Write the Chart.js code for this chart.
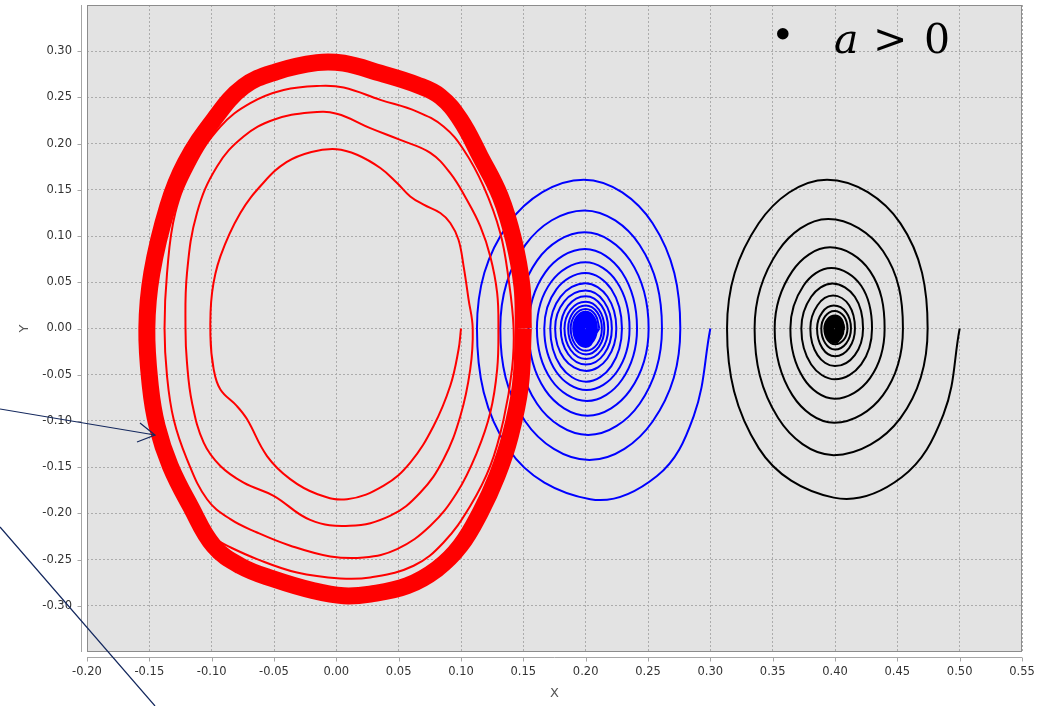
<!DOCTYPE html>
<html>
<head>
<meta charset="utf-8">
<title>Phase portrait</title>
<script src="https://cdn.jsdelivr.net/npm/chart.js@4.4.0/dist/chart.umd.min.js"></script>
<style>
	body { margin: 0; background: #ffffff; }
	#wrap { width: 1053px; height: 706px; }
</style>
</head>
<body>
<div id="wrap"><canvas id="phaseChart" width="1053" height="706"></canvas></div>
<script>
// Tick labels
var xTicks = [-0.20, -0.15, -0.10, -0.05, 0.00, 0.05, 0.10, 0.15, 0.20, 0.25, 0.30, 0.35, 0.40, 0.45, 0.50, 0.55];
var yTicks = [-0.30, -0.25, -0.20, -0.15, -0.10, -0.05, 0.00, 0.05, 0.10, 0.15, 0.20, 0.25, 0.30];

// Red trajectory, growing out from (0.10, 0) towards the limit cycle
var redSpiral = [
	[0.100, 0.000], [0.098, -0.023], [0.0914, -0.062], [0.078, -0.1055], [0.0593, -0.145], [0.038, -0.170],
	[0.0086, -0.1847], [-0.0155, -0.179], [-0.037, -0.163], [-0.0556, -0.138], [-0.0717, -0.098], [-0.0797, -0.084],
	[-0.093, -0.066], [-0.0984, -0.044], [-0.101, -0.008], [-0.0997, 0.0386], [-0.093, 0.078], [-0.077, 0.125],
	[-0.0583, 0.158], [-0.040, 0.180], [-0.020, 0.191], [0.000, 0.194], [0.0166, 0.188], [0.0353, 0.1736],
	[0.0487, 0.1574], [0.0593, 0.1429], [0.070, 0.134], [0.0834, 0.125], [0.0914, 0.1142], [0.098, 0.0961],
	[0.1021, 0.0673], [0.1061, 0.0313], [0.1094, 0.000],
	[0.1074, -0.0443], [0.0995, -0.0947], [0.086, -0.1415], [0.0674, -0.1775], [0.043, -0.2028], [0.0107, -0.2135],
	[-0.021, -0.207], [-0.0503, -0.181], [-0.0744, -0.1667], [-0.093, -0.1487], [-0.1064, -0.1235], [-0.1158, -0.080],
	[-0.1198, -0.037], [-0.121, 0.000], [-0.1198, 0.060], [-0.1118, 0.125], [-0.0957, 0.1753], [-0.0744, 0.2077],
	[-0.0503, 0.2258], [-0.021, 0.2337], [0.0003, 0.2323], [0.0272, 0.2168], [0.0513, 0.204], [0.0754, 0.190],
	[0.0914, 0.168], [0.1048, 0.139], [0.1155, 0.1105], [0.1235, 0.078], [0.129, 0.0386], [0.130, 0.000],
	[0.129, -0.0443], [0.1235, -0.091], [0.1128, -0.134], [0.0968, -0.1775], [0.0754, -0.2135], [0.0487, -0.2387],
	[0.0219, -0.2477], [-0.0048, -0.2466], [-0.0369, -0.235], [-0.0636, -0.2207], [-0.085, -0.2063], [-0.1037, -0.1847],
	[-0.1198, -0.1415], [-0.1305, -0.0983], [-0.1358, -0.0515], [-0.1378, 0.000], [-0.1358, 0.060], [-0.1292, 0.125],
	[-0.1145, 0.1753], [-0.093, 0.2185], [-0.069, 0.2438], [-0.0423, 0.258], [-0.0128, 0.2625], [0.0059, 0.2607],
	[0.0353, 0.2474], [0.0647, 0.2347], [0.086, 0.2185], [0.1021, 0.1934], [0.1181, 0.1537], [0.1315, 0.1034],
	[0.1382, 0.053], [0.1422, 0.000],
	[0.1409, -0.0443], [0.1342, -0.0983], [0.1235, -0.1487], [0.1074, -0.192], [0.086, -0.2315], [0.062, -0.2567],
	[0.0272, -0.2693], [0.0031, -0.2704], [-0.0316, -0.264], [-0.0636, -0.2495], [-0.0877, -0.235], [-0.097, -0.228]
];

// Red limit cycle (thick band)
var redCycle = [
	[0.150, 0.000], [0.1476, -0.0623], [0.1395, -0.1163], [0.1289, -0.1596], [0.1155, -0.199], [0.0995, -0.235],
	[0.0807, -0.2603], [0.0567, -0.2784], [0.0272, -0.2873], [0.0059, -0.2892], [-0.0182, -0.2838], [-0.0503, -0.2711],
	[-0.077, -0.2568], [-0.0984, -0.2352], [-0.1171, -0.192], [-0.1332, -0.1487], [-0.1438, -0.1055], [-0.1492, -0.0623],
	[-0.152, 0.000], [-0.148, 0.060], [-0.1353, 0.1318], [-0.1212, 0.179], [-0.0984, 0.2258], [-0.0744, 0.2617],
	[-0.0478, 0.278], [-0.0155, 0.2877], [0.0059, 0.287], [0.0353, 0.2762], [0.0647, 0.2636], [0.0834, 0.251],
	[0.0995, 0.2258], [0.1155, 0.186], [0.1315, 0.143], [0.1422, 0.096], [0.1489, 0.0457], [0.150, 0.000]
];

// Blue spiral into (0.20, 0): turns traced every eighth
var blueSpiral = [
	[0.300, 0.000], [0.2866, -0.095], [0.2572, -0.1596], [0.2037, -0.1847], [0.1383, -0.1306], [0.1128, 0.000], [0.1383, 0.1138], [0.1985, 0.161], [0.2537, 0.1138],
	[0.2759, 0.000], [0.2537, -0.1006], [0.203, -0.1423], [0.1516, -0.1006], [0.1315, 0.000], [0.1516, 0.0904], [0.199, 0.1278], [0.2433, 0.0904],
	[0.2612, 0.000], [0.2433, -0.0814], [0.202, -0.1152], [0.161, -0.0814], [0.1449, 0.000], [0.161, 0.0735], [0.1993, 0.104], [0.2357, 0.0735],
	[0.2505, 0.000], [0.2357, -0.0667], [0.2015, -0.0943], [0.1676, -0.0667], [0.1542, 0.000], [0.1676, 0.0608], [0.1995, 0.086], [0.2291, 0.0608],
	[0.2412, 0.000], [0.2291, -0.0555], [0.201, -0.0785], [0.1724, -0.0555], [0.1609, 0.000], [0.1724, 0.0506], [0.1997, 0.0716], [0.2249, 0.0506],
	[0.2352, 0.000], [0.2249, -0.0471], [0.2008, -0.0666], [0.1765, -0.0471], [0.1668, 0.000], [0.1765, 0.0424], [0.1998, 0.060], [0.2206, 0.0424],
	[0.2291, 0.000], [0.2206, -0.0407], [0.2005, -0.0576], [0.1799, -0.0407], [0.1716, 0.000], [0.1799, 0.0346], [0.1998, 0.049], [0.2174, 0.0346],
	[0.2246, 0.000], [0.2174, -0.0325], [0.2004, -0.046], [0.1827, -0.0325], [0.1755, 0.000], [0.1827, 0.029], [0.1999, 0.041], [0.2148, 0.029],
	[0.221, 0.000], [0.2148, -0.0276], [0.2003, -0.039], [0.1859, -0.0276], [0.180, 0.000], [0.1859, 0.0247], [0.200, 0.035], [0.2127, 0.0247],
	[0.218, 0.000], [0.2127, -0.0233], [0.2002, -0.033], [0.188, -0.0233], [0.183, 0.000], [0.188, 0.0205], [0.200, 0.029], [0.2106, 0.0205],
	[0.215, 0.000], [0.2106, -0.0198], [0.2002, -0.028], [0.1901, -0.0198], [0.186, 0.000], [0.1901, 0.0177], [0.200, 0.025], [0.2092, 0.0177],
	[0.213, 0.000], [0.2092, -0.017], [0.2001, -0.024], [0.1915, -0.017], [0.188, 0.000], [0.1915, 0.0148], [0.200, 0.021], [0.2078, 0.0148],
	[0.211, 0.000]
];

// Blue solid core, traced every quarter turn
var blueCore = [
	[0.211, 0.000], [0.2001, -0.020], [0.190, 0.000], [0.200, 0.018],
	[0.209, 0.000], [0.200, -0.0185], [0.1905, 0.000], [0.200, 0.0165],
	[0.2085, 0.000], [0.200, -0.017], [0.1915, 0.000], [0.200, 0.015],
	[0.2075, 0.000], [0.200, -0.0155], [0.192, 0.000], [0.200, 0.0135],
	[0.207, 0.000], [0.200, -0.014], [0.193, 0.000], [0.200, 0.012],
	[0.206, 0.000], [0.200, -0.0125], [0.1935, 0.000], [0.200, 0.0105],
	[0.2055, 0.000], [0.200, -0.011], [0.1945, 0.000], [0.200, 0.009],
	[0.205, 0.000], [0.200, -0.0095], [0.195, 0.000], [0.200, 0.0075],
	[0.2045, 0.000], [0.200, -0.008], [0.1955, 0.000], [0.200, 0.006],
	[0.204, 0.000], [0.200, -0.0065], [0.1965, 0.000], [0.200, 0.0045],
	[0.203, 0.000], [0.200, -0.005], [0.197, 0.000], [0.200, 0.003],
	[0.2025, 0.000], [0.200, -0.0035], [0.198, 0.000], [0.200, 0.002],
	[0.2015, 0.000], [0.200, -0.002], [0.199, 0.000], [0.200, 0.001],
	[0.2005, 0.000], [0.200, 0.000]
];

// Black spiral into (0.40, 0)
var blackSpiral = [
	[0.500, 0.000], [0.487, -0.093], [0.4535, -0.161], [0.399, -0.183], [0.3388, -0.1294], [0.3134, 0.000], [0.3388, 0.1138], [0.3936, 0.161], [0.4525, 0.1138],
	[0.4743, 0.000], [0.4525, -0.0969], [0.399, -0.137], [0.3544, -0.0969], [0.3355, 0.000], [0.3544, 0.0838], [0.3945, 0.1185], [0.4385, 0.0838],
	[0.4545, 0.000], [0.4385, -0.0721], [0.3995, -0.102], [0.3658, -0.0721], [0.3516, 0.000], [0.3658, 0.0621], [0.396, 0.0878], [0.4281, 0.0621],
	[0.4398, 0.000], [0.4281, -0.0537], [0.3998, -0.076], [0.3747, -0.0537], [0.3642, 0.000], [0.3747, 0.0463], [0.397, 0.0655], [0.421, 0.0463],
	[0.4297, 0.000], [0.421, -0.0389], [0.400, -0.055], [0.3809, -0.0389], [0.373, 0.000], [0.3809, 0.0344], [0.398, 0.0486], [0.4159, 0.0344],
	[0.4225, 0.000], [0.4159, -0.0288], [0.400, -0.0407], [0.386, -0.0288], [0.3802, 0.000], [0.386, 0.0252], [0.3985, 0.0356], [0.4113, 0.0252],
	[0.416, 0.000], [0.4113, -0.0212], [0.400, -0.030], [0.3898, -0.0212], [0.3856, 0.000], [0.3898, 0.0175], [0.399, 0.0248], [0.409, 0.0175],
	[0.4128, 0.000], [0.409, -0.016], [0.400, -0.0227], [0.3922, -0.016], [0.389, 0.000], [0.3922, 0.0134], [0.3995, 0.019], [0.4071, 0.0134],
	[0.410, 0.000], [0.4071, -0.012], [0.400, -0.017], [0.394, -0.012], [0.3915, 0.000], [0.394, 0.0099], [0.400, 0.014], [0.4053, 0.0099],
	[0.4075, 0.000]
];

// Black solid core
var blackCore = [
	[0.4075, 0.000], [0.400, -0.0155], [0.392, 0.000], [0.400, 0.013],
	[0.407, 0.000], [0.400, -0.014], [0.3925, 0.000], [0.400, 0.012],
	[0.4065, 0.000], [0.400, -0.0125], [0.393, 0.000], [0.400, 0.0105],
	[0.406, 0.000], [0.400, -0.011], [0.394, 0.000], [0.400, 0.009],
	[0.405, 0.000], [0.400, -0.0095], [0.3945, 0.000], [0.400, 0.0075],
	[0.4045, 0.000], [0.400, -0.008], [0.3955, 0.000], [0.400, 0.006],
	[0.4035, 0.000], [0.400, -0.0065], [0.3965, 0.000], [0.400, 0.0045],
	[0.403, 0.000], [0.400, -0.005], [0.397, 0.000], [0.400, 0.003],
	[0.402, 0.000], [0.400, -0.0035], [0.398, 0.000], [0.400, 0.002],
	[0.4015, 0.000], [0.400, -0.002], [0.399, 0.000], [0.400, 0.001],
	[0.4005, 0.000], [0.400, 0.000]
];

function toPoints(list)
{
	return list.map(function(p) { return {x: p[0], y: p[1]}; });
}

function fmt(v)
{
	if (Math.abs(v) < 1e-9) v = 0;
	return v.toFixed(2);
}

function curve(label, list, color, width, tension, order)
{
	return {
		label: label,
		data: toPoints(list),
		showLine: true,
		borderColor: color,
		borderWidth: width,
		pointRadius: 0,
		tension: tension,
		order: order
	};
}

var tickFont = {family: '"DejaVu Sans", sans-serif', size: 11.5};

//Plot background, offset axes, label and arrows
var plotDecor = {
	id: 'plotDecor',
	beforeDraw: function(chart)
	{
		var a = chart.chartArea, ctx = chart.ctx;
		ctx.save();
		ctx.fillStyle = '#e3e3e3';
		ctx.fillRect(a.left, a.top, a.right - a.left, a.bottom - a.top);
		ctx.restore();
	},
	afterDraw: function(chart)
	{
		var a = chart.chartArea, ctx = chart.ctx;
		var xs = chart.scales.x, ys = chart.scales.y;
		ctx.save();

		// plot border
		ctx.strokeStyle = '#8c8c8c';
		ctx.lineWidth = 1;
		ctx.strokeRect(a.left + 0.5, a.top + 0.5, a.right - a.left - 1, a.bottom - a.top - 1);

		// axis lines sit a few pixels outside the plot
		ctx.strokeStyle = '#a6a6a6';
		ctx.beginPath();
		ctx.moveTo(a.left - 5.5, a.top);
		ctx.lineTo(a.left - 5.5, a.bottom);
		ctx.moveTo(a.left, a.bottom + 5.5);
		ctx.lineTo(a.right, a.bottom + 5.5);
		yTicks.forEach(function(v) {
			var py = Math.round(ys.getPixelForValue(v)) + 0.5;
			ctx.moveTo(a.left - 9.5, py);
			ctx.lineTo(a.left - 5.5, py);
		});
		xTicks.forEach(function(v) {
			var px = Math.round(xs.getPixelForValue(v)) + 0.5;
			ctx.moveTo(px, a.bottom + 5.5);
			ctx.lineTo(px, a.bottom + 9.5);
		});
		ctx.stroke();

		// "• a > 0"
		ctx.fillStyle = '#000000';
		ctx.textAlign = 'left';
		ctx.textBaseline = 'alphabetic';
		ctx.font = '40px "DejaVu Serif"';
		ctx.fillText('\u2022', 771, 48);
		ctx.font = 'italic 41px "DejaVu Serif"';
		ctx.fillText('a', 834, 53);
		ctx.font = '41px "DejaVu Serif"';
		ctx.fillText('>', 873, 53);
		ctx.fillText('0', 924, 53);

		// hand drawn pointer lines
		ctx.strokeStyle = '#14285e';
		ctx.lineWidth = 1.2;
		ctx.beginPath();
		ctx.moveTo(0, 409);
		ctx.lineTo(155, 435);
		ctx.moveTo(140, 423);
		ctx.lineTo(155, 435);
		ctx.lineTo(137, 442);
		ctx.moveTo(0, 527);
		ctx.lineTo(155, 706);
		ctx.stroke();

		ctx.restore();
	}
};

var ctx = document.getElementById('phaseChart').getContext('2d');

var phaseChart = new Chart(ctx, {
	type: 'scatter',
	data: {
		datasets: [
			curve('limit cycle', redCycle, '#ff0000', 17, 0.4, 0),
			curve('a > 0 from (0.10, 0)', redSpiral, '#ff0000', 2, 0.4, 1),
			curve('from (0.30, 0)', blueSpiral, '#0000ff', 2, 0.38, 2),
			curve('from (0.30, 0) core', blueCore, '#0000ff', 2, 0.55, 2),
			curve('from (0.50, 0)', blackSpiral, '#000000', 2, 0.38, 3),
			curve('from (0.50, 0) core', blackCore, '#000000', 2, 0.55, 3)
		]
	},
	options: {
		responsive: false,
		animation: false,
		devicePixelRatio: 1,
		layout: { padding: { left: 0, right: 31, top: 5, bottom: 0 } },
		plugins: {
			legend: { display: false },
			tooltip: { enabled: false }
		},
		scales: {
			x: {
				type: 'linear',
				min: -0.20,
				max: 0.55,
				afterBuildTicks: function(scale) { scale.ticks = xTicks.map(function(v) { return {value: v}; }); },
				afterFit: function(scale) { scale.height = 54; scale.paddingLeft = 0; scale.paddingRight = 0; },
				ticks: {
					font: tickFont,
					color: '#333333',
					padding: 13,
					maxRotation: 0,
					autoSkip: false,
					callback: function(v) { return fmt(v); }
				},
				grid: { color: '#acacac', drawTicks: false },
				border: { display: false, dash: [2, 2] },
				title: {
					display: true,
					text: 'X',
					color: '#555555',
					font: {family: '"DejaVu Sans", sans-serif', size: 13},
					padding: { top: 0, bottom: 5 }
				}
			},
			y: {
				type: 'linear',
				min: -0.35,
				max: 0.35,
				afterBuildTicks: function(scale) { scale.ticks = yTicks.map(function(v) { return {value: v}; }); },
				afterFit: function(scale) { scale.width = 87; scale.paddingTop = 0; scale.paddingBottom = 0; },
				ticks: {
					font: tickFont,
					color: '#333333',
					padding: 15,
					autoSkip: false,
					callback: function(v) { return fmt(v); }
				},
				grid: { color: '#acacac', drawTicks: false },
				border: { display: false, dash: [2, 2] },
				title: {
					display: true,
					text: 'Y',
					color: '#555555',
					font: {family: '"DejaVu Sans", sans-serif', size: 13},
					padding: { top: 17, bottom: 0 }
				}
			}
		}
	},
	plugins: [plotDecor]
});
</script>
</body>
</html>
